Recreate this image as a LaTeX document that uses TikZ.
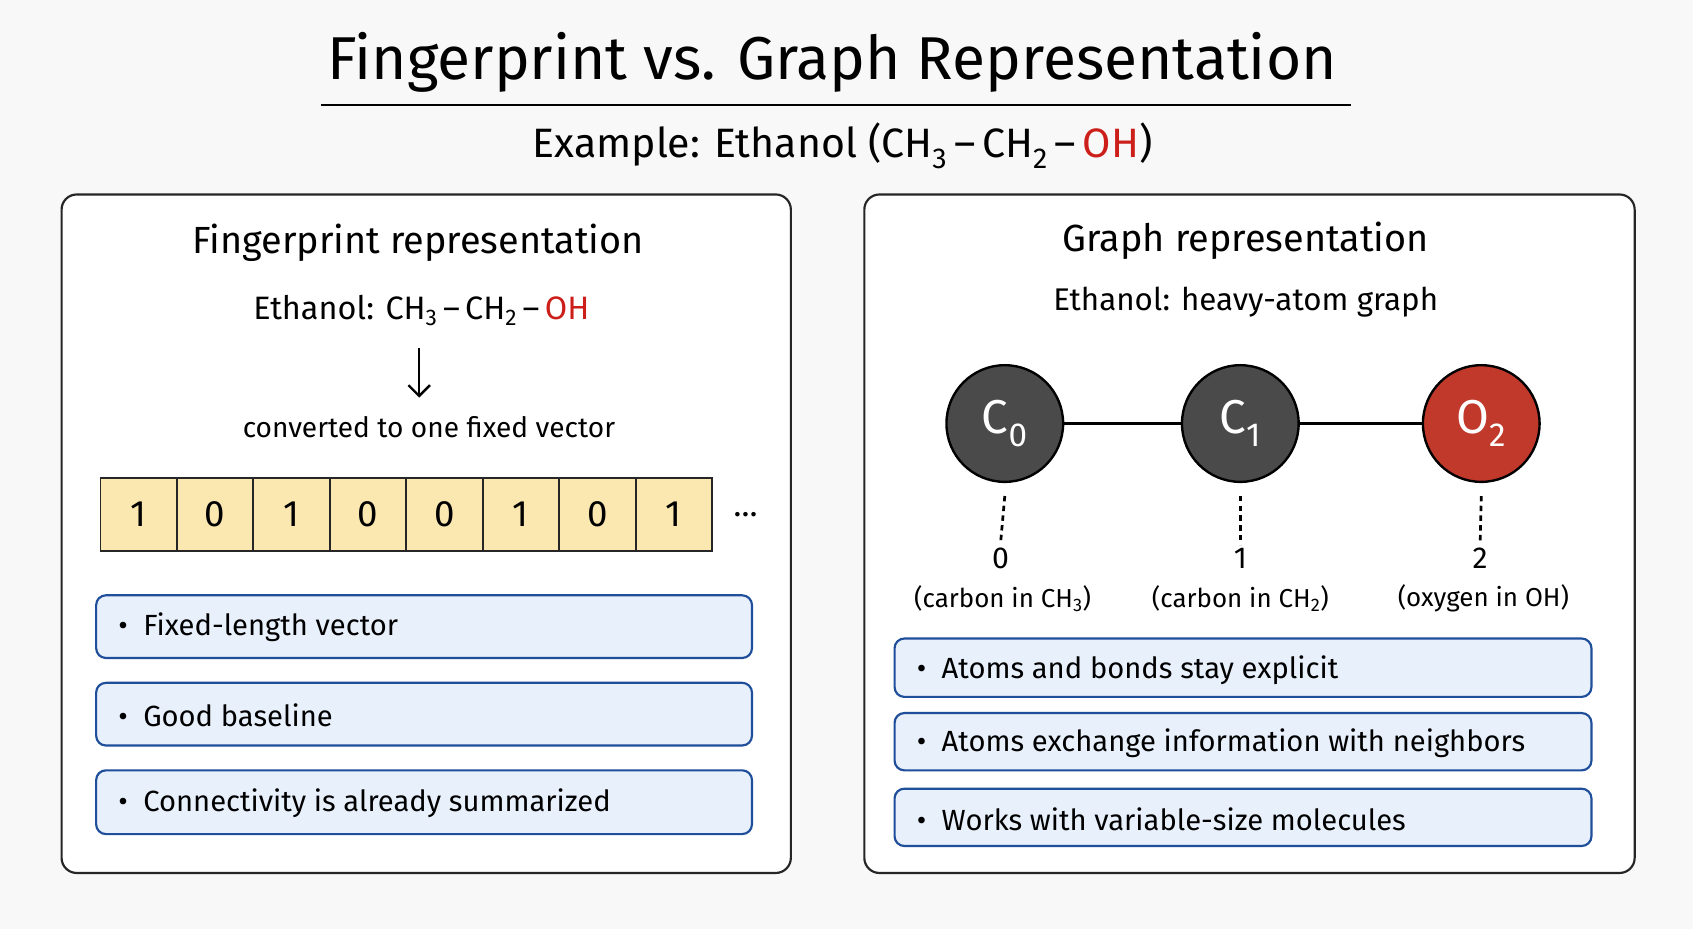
\documentclass[tikz,border=0pt]{standalone}
\usepackage{fontspec}
\setmainfont{Fira Sans}
\usetikzlibrary{arrows.meta}
\definecolor{bg}{HTML}{F8F8F8}
\definecolor{bfill}{HTML}{E8F0FC}
\definecolor{bline}{HTML}{1F4E9A}
\definecolor{cell}{HTML}{FBE7B0}
\definecolor{atomg}{HTML}{4A4A4A}
\definecolor{atomr}{HTML}{C0392B}
\definecolor{ohred}{HTML}{CC1F1A}
\newcommand{\sbs}[1]{\textsubscript{#1}}
\newcommand{\bnd}{\,–\,}
\tikzset{
 panel/.style={draw=black!85,line width=2pt,rounded corners=14pt,fill=white},
 bullet/.style={draw=bline,line width=2pt,rounded corners=9pt,fill=bfill},
 btext/.style={anchor=west,font=\fontsize{27}{30}\selectfont},
 cellbox/.style={draw=black!85,line width=1.8pt,fill=cell,minimum width=70.75pt,minimum height=68pt,inner sep=0pt,font=\fontsize{34}{38}\selectfont},
 atom/.style={circle,draw=black,line width=2.2pt,minimum size=108pt,inner sep=0pt,text=white,font=\fontsize{44}{48}\selectfont},
 lbl/.style={font=\fontsize{24}{28}\selectfont},
 num/.style={font=\fontsize{28}{32}\selectfont},
}
\begin{document}
\begin{tikzpicture}[x=1pt,y=-1pt]
\fill[bg] (0,0) rectangle (1567,860);
\useasboundingbox (0,0) rectangle (1567,860);
\node (title) at (770,58) {\fontsize{56}{62}\selectfont Fingerprint vs. Graph Representation};
\draw[line width=2pt] (297,97) -- (1250,97);
\node (sub) at (780,135) {\fontsize{38}{44}\selectfont Example: Ethanol (CH\sbs{3}\bnd CH\sbs{2}\bnd\textcolor{ohred}{OH})};
% left panel
\draw[panel] (57,180) rectangle (732,808);
\node (lt) at (387,225) {\fontsize{35}{40}\selectfont Fingerprint representation};
\node (le) at (390,287) {\fontsize{30}{36}\selectfont Ethanol: CH\sbs{3}\bnd CH\sbs{2}\bnd\textcolor{ohred}{OH}};
\node (conv) at (397,395) {\fontsize{26}{30}\selectfont converted to one fixed vector};
\coordinate (arS) at (388,322);
\coordinate (arE) at (388,368);
\draw[line width=2.2pt,-{Straight Barb[length=10pt,width=20pt,line width=2.2pt]}] (arS) -- (arE);
\foreach \v [count=\i from 0] in {1,0,1,0,0,1,0,1}{
  \node[cellbox] (c\i) at (128.4+70.75*\i,476) {\v};
}
\node (dots) at (690,476) {\fontsize{30}{34}\selectfont\dots};
\draw[bullet] (89,551) rectangle (696,609);
\node[btext] (b1) at (106,581) {•\ \ Fixed-length vector};
\draw[bullet] (89,632) rectangle (696,690);
\node[btext] (b2) at (106,662) {•\ \ Good baseline};
\draw[bullet] (89,713) rectangle (696,772);
\node[btext] (b3) at (106,743) {•\ \ Connectivity is already summarized};
% right panel
\draw[panel] (800,180) rectangle (1513,808);
\node (rt) at (1153,223) {\fontsize{35}{40}\selectfont Graph representation};
\node (rs) at (1153,280) {\fontsize{29}{34}\selectfont Ethanol: heavy-atom graph};
\node[atom,fill=atomg] (a0) at (930,392) {C\sbs{0}};
\node[atom,fill=atomg] (a1) at (1148,392) {C\sbs{1}};
\node[atom,fill=atomr] (a2) at (1371,392) {O\sbs{2}};
\draw[line width=2.5pt] (a0) -- (a1) (a1) -- (a2);
\node[num] (n0) at (926,517) {0};
\node[num] (n1) at (1148,517) {1};
\node[num] (n2) at (1370,517) {2};
\foreach \i in {0,1,2}{\draw[line width=2.5pt,dash pattern=on 5pt off 4pt] (a\i.south) ++(0,12) -- (n\i.north);}
\node[lbl] (l0) at (928,554) {(carbon in CH\sbs{3})};
\node[lbl] (l1) at (1148,554) {(carbon in CH\sbs{2})};
\node[lbl] (l2) at (1373,554) {(oxygen in OH)};
\draw[bullet] (828,591) rectangle (1473,645);
\node[btext] (r1) at (845,620) {•\ \ Atoms and bonds stay explicit};
\draw[bullet] (828,660) rectangle (1473,713);
\node[btext] (r2) at (845,688) {•\ \ Atoms exchange information with neighbors};
\draw[bullet] (828,730) rectangle (1473,783);
\node[btext] (r3) at (845,758) {•\ \ Works with variable-size molecules};
\end{tikzpicture}
\end{document}
